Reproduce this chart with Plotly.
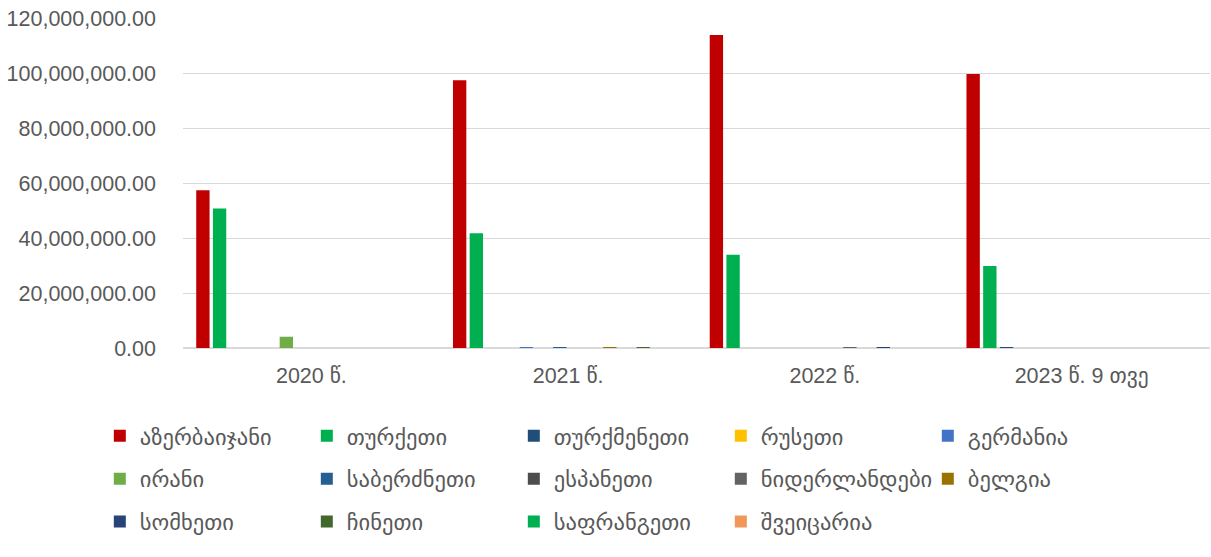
import plotly.graph_objects as go

categories = ["2020 წ.", "2021 წ.", "2022 წ.", "2023 წ. 9 თვე"]

series_names = [
    "აზერბაიჯანი", "თურქეთი", "თურქმენეთი", "რუსეთი", "გერმანია",
    "ირანი", "საბერძნეთი", "ესპანეთი", "ნიდერლანდები", "ბელგია",
    "სომხეთი", "ჩინეთი", "საფრანგეთი", "შვეიცარია",
]
series_colors = [
    "#C00000", "#00B050", "#1F4E79", "#FFC000", "#4472C4",
    "#70AD47", "#255E91", "#4D4D4D", "#636363", "#997300",
    "#264478", "#43682B", "#00B050", "#F1975A",
]

azerbaijan = [57400000, 97400000, 113800000, 99600000]
turkey = [50700000, 41700000, 33900000, 29800000]
turkmenistan = [0, 0, 0, 300000]
russia = [0, 0, 0, 0]
germany = [0, 60000, 0, 0]
iran = [4100000, 0, 0, 0]
greece = [0, 40000, 0, 0]
spain = [0, 0, 0, 0]
netherlands = [0, 0, 300000, 0]
belgium = [0, 300000, 0, 0]
armenia = [0, 0, 300000, 0]
china = [0, 60000, 0, 0]
france = [0, 0, 0, 0]
switzerland = [0, 0, 0, 0]

series_values = [
    azerbaijan, turkey, turkmenistan, russia, germany,
    iran, greece, spain, netherlands, belgium,
    armenia, china, france, switzerland,
]

legend_rows = ["legend"] * 5 + ["legend2"] * 5 + ["legend3"] * 4

fig = go.Figure()
for name, vals, col, lg in zip(series_names, series_values, series_colors, legend_rows):
    fig.add_trace(go.Bar(
        name=name, x=categories, y=vals,
        marker=dict(color=col, line=dict(width=0)),
        legend=lg,
    ))

font_family = "Liberation Sans, DejaVu Sans, sans-serif"
txt_color = "#595959"

leg_common = dict(
    orientation="h",
    xref="paper", yref="paper",
    xanchor="left", yanchor="middle",
    x=-0.081,
    entrywidth=162, entrywidthmode="pixels",
    font=dict(size=22.5, color=txt_color, family=font_family),
    bgcolor="rgba(0,0,0,0)",
    traceorder="normal",
)

fig.update_layout(
    width=1211, height=557,
    margin=dict(l=183, r=1, t=18, b=209, autoexpand=False),
    paper_bgcolor="white", plot_bgcolor="white",
    barmode="group",
    bargap=0.09,
    bargroupgap=0.2,
    font=dict(family=font_family, color=txt_color, size=21),
    legend=dict(leg_common, y=-0.267),
    legend2=dict(leg_common, y=-0.397),
    legend3=dict(leg_common, y=-0.527),
    showlegend=True,
)

fig.update_yaxes(
    range=[0, 120000000], dtick=20000000,
    tickformat=",.2f",
    showgrid=True, gridcolor="#D9D9D9", gridwidth=1,
    zeroline=True, zerolinecolor="#D9D9D9", zerolinewidth=2,
    showline=False,
    ticklabelstandoff=26,
    ticklabeloverflow="allow",
    tickfont=dict(size=21.5, color=txt_color),
)
fig.update_xaxes(
    showline=False, showgrid=False,
    ticks="", ticklabelstandoff=12,
    tickfont=dict(size=21.5, color=txt_color),
)

fig.write_html(
    "out.html",
    config={"displayModeBar": False},
    post_script="document.body.style.margin='0';document.body.style.overflow='hidden';",
)
